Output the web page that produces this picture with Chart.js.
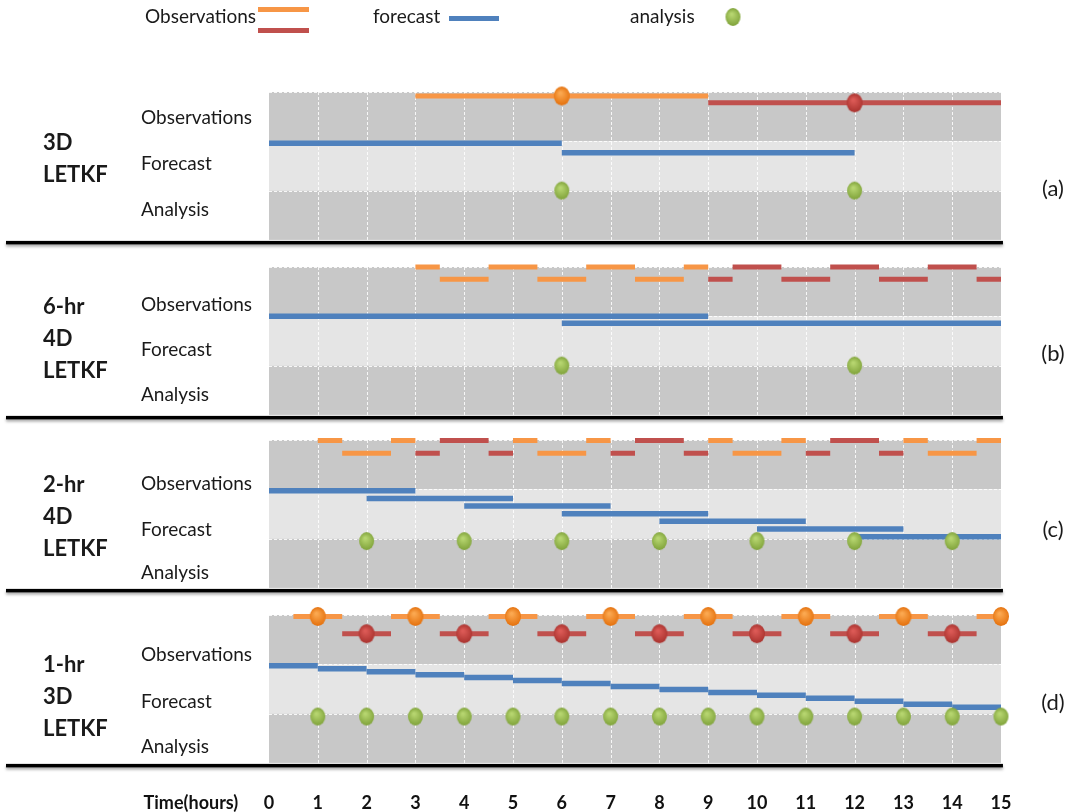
<!DOCTYPE html>
<html>
<head>
<meta charset="utf-8">
<script src="https://cdn.jsdelivr.net/npm/chart.js@4.4.1/dist/chart.umd.min.js"></script>
<style>
  html, body { margin: 0; padding: 0; background: #fff; }
</style>
</head>
<body>
<canvas id="chart" width="1073" height="812"></canvas>
<script>
// ---- data (hours) ----
const hours = [0, 1, 2, 3, 4, 5, 6, 7, 8, 9, 10, 11, 12, 13, 14, 15];
const rowNames = ["Observations", "Forecast", "Analysis"];
const panelTitles = [["3D", "LETKF"], ["6-hr", "4D", "LETKF"], ["2-hr", "4D", "LETKF"], ["1-hr", "3D", "LETKF"]];
const panelLetters = ["(a)", "(b)", "(c)", "(d)"];

// (a) 3D LETKF
const obsA_orange = [[3, 9]];
const obsA_red = [[9, 15]];
const obsA_orangeDots = [6];
const obsA_redDots = [12];
const fcstA = [[0, 6], [6, 12]];
const anlA = [6, 12];

// (b) 6-hr 4D LETKF
const obsB_orangeTop = [[3, 3.5], [4.5, 5.5], [6.5, 7.5], [8.5, 9]];
const obsB_orangeLow = [[3.5, 4.5], [5.5, 6.5], [7.5, 8.5]];
const obsB_redTop = [[9.5, 10.5], [11.5, 12.5], [13.5, 14.5]];
const obsB_redLow = [[9, 9.5], [10.5, 11.5], [12.5, 13.5], [14.5, 15]];
const fcstB = [[0, 9], [6, 15]];
const anlB = [6, 12];

// (c) 2-hr 4D LETKF
const obsC_orangeTop = [[1, 1.5], [2.5, 3], [5, 5.5], [6.5, 7], [9, 9.5], [10.5, 11], [13, 13.5], [14.5, 15]];
const obsC_orangeLow = [[1.5, 2.5], [5.5, 6.5], [9.5, 10.5], [13.5, 14.5]];
const obsC_redTop = [[3.5, 4.5], [7.5, 8.5], [11.5, 12.5]];
const obsC_redLow = [[3, 3.5], [4.5, 5], [7, 7.5], [8.5, 9], [11, 11.5], [12.5, 13]];
const fcstC = [[0, 3], [2, 5], [4, 7], [6, 9], [8, 11], [10, 13], [12, 15]];
const anlC = [2, 4, 6, 8, 10, 12, 14];

// (d) 1-hr 3D LETKF
const obsD_orange = [[0.5, 1.5], [2.5, 3.5], [4.5, 5.5], [6.5, 7.5], [8.5, 9.5], [10.5, 11.5], [12.5, 13.5], [14.5, 15]];
const obsD_orangeDots = [1, 3, 5, 7, 9, 11, 13, 15];
const obsD_red = [[1.5, 2.5], [3.5, 4.5], [5.5, 6.5], [7.5, 8.5], [9.5, 10.5], [11.5, 12.5], [13.5, 14.5]];
const obsD_redDots = [2, 4, 6, 8, 10, 12, 14];
const fcstD = [[0, 1], [1, 2], [2, 3], [3, 4], [4, 5], [5, 6], [6, 7], [7, 8], [8, 9], [9, 10], [10, 11], [11, 12], [12, 13], [13, 14], [14, 15]];
const anlD = [1, 2, 3, 4, 5, 6, 7, 8, 9, 10, 11, 12, 13, 14, 15];

// ---- layout ----
const W = 1073, H = 812;
const X0 = 269, HOUR_PX = 48.8;      // pixel of hour 0, pixels per hour
const BAND_PX = 49.3;                 // one band (row) in pixels
const PLOT_BOTTOM = 772;              // chart area bottom (x axis below)
const panelTopPx = [92, 267, 440, 615];
// lane levels inside a panel, in band units from panel top
const lanes = [
  { obs: [0.08, 0.22], fcst0: 1.04, fcstStep: 0.19, anl: 2.0 },
  { obs: [0.0, 0.25], fcst0: 1.0, fcstStep: 0.14, anl: 2.0 },
  { obs: [0.01, 0.27], fcst0: 1.03, fcstStep: 0.155, anl: 2.05 },
  { obs: [0.03, 0.38], fcst0: 1.03, fcstStep: 0.06, anl: 2.06 }
];
const titleY = [143, 307, 485, 665];
const rowY = [[118, 164, 210], [305, 350, 395], [484, 530, 573], [655, 702, 747]];
const letterY = [189, 354, 530, 703];
const TIME_LABEL_AT = -1.6;

const ORANGE = "#f79646", RED = "#c0504d", BLUE = "#4f81bd";
const DARK_BAND = "#c8c8c8", LIGHT_BAND = "#e5e5e5";
const FONT = "Lato, 'Open Sans', sans-serif";

function dotImage(light, dark, w, h) {
  const c = document.createElement("canvas");
  c.width = w + 2; c.height = h + 2;
  const g = c.getContext("2d");
  const grad = g.createRadialGradient(c.width * 0.42, c.height * 0.36, 1, c.width / 2, c.height / 2, h / 2);
  grad.addColorStop(0, light);
  grad.addColorStop(1, dark);
  g.fillStyle = grad;
  g.beginPath();
  g.ellipse(c.width / 2, c.height / 2, w / 2, h / 2, 0, 0, Math.PI * 2);
  g.fill();
  return c;
}
const greenDot = dotImage("#b6d56f", "#7fa23a", 15, 18);
const orangeDot = dotImage("#fba850", "#e4700c", 16, 19);
const redDot = dotImage("#dc5a56", "#a8322e", 16, 19);

const base = p => panelTopPx[p] / BAND_PX;
const segs = (ranges, y) => ranges.flatMap(([a, b]) => [{ x: a, y }, { x: b, y }, { x: b, y: null }]);
const pts = (xs, y) => xs.map(h => ({ x: h, y }));

function lineSet(data, color, width) {
  return { type: "line", data, borderColor: color, borderWidth: width || 5, borderCapStyle: "butt",
    pointRadius: 0, spanGaps: false, tension: 0, order: 2 };
}
function dotSet(data, img) {
  return { type: "line", data, showLine: false, pointStyle: img, pointRadius: 9, order: 1 };
}
function fcstSets(p, windows) {
  return windows.map((w, i) => lineSet(segs([w], base(p) + lanes[p].fcst0 + i * lanes[p].fcstStep), BLUE, 5.5));
}

const ob = (p, k) => base(p) + lanes[p].obs[k];
const an = p => base(p) + lanes[p].anl;

const datasets = [
  // (a)
  lineSet(segs(obsA_orange, ob(0, 0)), ORANGE),
  lineSet(segs(obsA_red, ob(0, 1)), RED),
  dotSet(pts(obsA_orangeDots, ob(0, 0)), orangeDot),
  dotSet(pts(obsA_redDots, ob(0, 1)), redDot),
  ...fcstSets(0, fcstA),
  dotSet(pts(anlA, an(0)), greenDot),
  // (b)
  lineSet(segs(obsB_orangeTop, ob(1, 0)), ORANGE),
  lineSet(segs(obsB_orangeLow, ob(1, 1)), ORANGE),
  lineSet(segs(obsB_redTop, ob(1, 0)), RED),
  lineSet(segs(obsB_redLow, ob(1, 1)), RED),
  ...fcstSets(1, fcstB),
  dotSet(pts(anlB, an(1)), greenDot),
  // (c)
  lineSet(segs(obsC_orangeTop, ob(2, 0)), ORANGE),
  lineSet(segs(obsC_orangeLow, ob(2, 1)), ORANGE),
  lineSet(segs(obsC_redTop, ob(2, 0)), RED),
  lineSet(segs(obsC_redLow, ob(2, 1)), RED),
  ...fcstSets(2, fcstC),
  dotSet(pts(anlC, an(2)), greenDot),
  // (d)
  lineSet(segs(obsD_orange, ob(3, 0)), ORANGE),
  lineSet(segs(obsD_red, ob(3, 1)), RED),
  dotSet(pts(obsD_orangeDots, ob(3, 0)), orangeDot),
  dotSet(pts(obsD_redDots, ob(3, 1)), redDot),
  ...fcstSets(3, fcstD),
  dotSet(pts(anlD, an(3)), greenDot)
];

// gray bands, white dashed grid, black rules, labels and legend
const panelBackdrop = {
  id: "panelBackdrop",
  beforeDatasetsDraw(chart) {
    const { ctx, scales: { x, y } } = chart;
    const left = x.getPixelForValue(0), right = x.getPixelForValue(15);
    panelTopPx.forEach((t, p) => {
      const ys = [0, 1, 2, 3].map(k => y.getPixelForValue(base(p) + k));
      [DARK_BAND, LIGHT_BAND, DARK_BAND].forEach((col, k) => {
        ctx.fillStyle = col;
        ctx.fillRect(left, ys[k], right - left, ys[k + 1] - ys[k]);
      });
      ctx.save();
      ctx.strokeStyle = "rgba(255,255,255,0.85)";
      ctx.lineWidth = 1;
      ctx.setLineDash([3, 2]);
      ctx.beginPath();
      hours.slice(1, -1).forEach(h => {
        const px = Math.round(x.getPixelForValue(h)) + 0.5;
        ctx.moveTo(px, ys[0]); ctx.lineTo(px, ys[3]);
      });
      [0, 1, 2].forEach(k => {
        const py = Math.round(ys[k]) + 0.5;
        ctx.moveTo(left, py); ctx.lineTo(right, py);
      });
      ctx.stroke();
      ctx.restore();

      ctx.save();
      ctx.shadowColor = "rgba(0,0,0,0.35)";
      ctx.shadowOffsetY = 2;
      ctx.shadowBlur = 3;
      ctx.fillStyle = "#000";
      ctx.fillRect(6, ys[3] + 1, x.getPixelForValue(15.04) - 6, 3.5);
      ctx.restore();
    });
  },
  afterDraw(chart) {
    const { ctx } = chart;
    ctx.save();
    ctx.fillStyle = "#1a1a1a";
    ctx.textBaseline = "middle";
    panelTopPx.forEach((t, p) => {
      ctx.font = "bold 22px " + FONT;
      ctx.textAlign = "left";
      panelTitles[p].forEach((s, i) => ctx.fillText(s, 43, titleY[p] + i * 32));
      ctx.font = "19px " + FONT;
      rowNames.forEach((s, i) => ctx.fillText(s, 141, rowY[p][i]));
      ctx.textAlign = "center";
      ctx.font = "22px " + FONT;
      ctx.fillText(panelLetters[p], 1053, letterY[p]);
    });
    // legend
    ctx.textAlign = "left";
    ctx.font = "19px " + FONT;
    ctx.fillText("Observations", 145, 17);
    ctx.fillText("forecast", 373, 17);
    ctx.fillText("analysis", 630, 17);
    ctx.fillStyle = ORANGE; ctx.fillRect(258, 7, 51, 5);
    ctx.fillStyle = RED; ctx.fillRect(258, 28, 51, 5);
    ctx.fillStyle = BLUE; ctx.fillRect(449, 16, 50, 5);
    ctx.drawImage(greenDot, 733 - greenDot.width / 2, 17 - greenDot.height / 2);
    ctx.restore();
  }
};

new Chart(document.getElementById("chart"), {
  type: "line",
  data: { datasets },
  plugins: [panelBackdrop],
  options: {
    responsive: false,
    animation: false,
    events: [],
    layout: { padding: 0, autoPadding: false },
    plugins: { legend: { display: false }, tooltip: { enabled: false } },
    scales: {
      x: {
        type: "linear",
        min: -X0 / HOUR_PX,
        max: (W - X0) / HOUR_PX,
        grid: { display: false },
        border: { display: false },
        afterFit(scale) { scale.height = H - PLOT_BOTTOM; },
        afterBuildTicks(scale) {
          scale.ticks = [{ value: TIME_LABEL_AT }].concat(hours.map(h => ({ value: h })));
        },
        ticks: {
          autoSkip: false,
          maxRotation: 0,
          padding: 12,
          color: "#111",
          font: { family: FONT, size: 18, weight: "bold" },
          callback: v => (v === TIME_LABEL_AT ? "Time(hours)" : String(v))
        }
      },
      y: {
        type: "linear",
        display: false,
        reverse: true,
        min: 0,
        max: PLOT_BOTTOM / BAND_PX
      }
    }
  }
});
</script>
</body>
</html>
